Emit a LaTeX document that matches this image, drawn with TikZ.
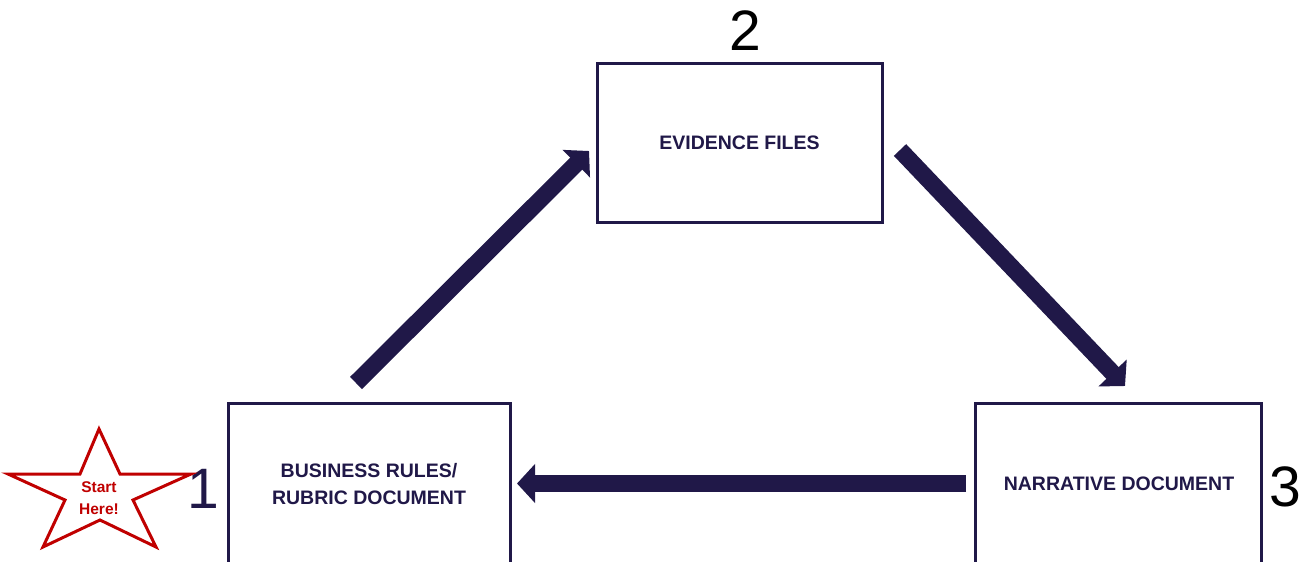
\documentclass[tikz,border=0pt]{standalone}
\usepackage{fontspec}
\setmainfont{Liberation Sans}
\usetikzlibrary{arrows.meta}
\definecolor{navy}{RGB}{32,24,72}
\definecolor{starred}{RGB}{192,0,0}
\tikzset{
  box/.style={draw=navy, line width=3pt, fill=white, inner sep=0pt},
  boxtext/.style={text=navy, font=\fontsize{19.5}{27}\selectfont\bfseries, align=center},
  bigarrow/.style={draw=navy, line width=17pt, -{Triangle[length=18pt,width=38pt]}},
  numlabel/.style={font=\fontsize{57}{57}\selectfont, inner sep=0pt},
}
\begin{document}
\begin{tikzpicture}[x=1pt,y=-1pt]
\useasboundingbox (0,0) rectangle (1309,562);
\begin{scope}
\clip (0,0) rectangle (1309,562);
% boxes
\draw[box] (597,63) rectangle (882,222);
\draw[box] (228,403) rectangle (510,570);
\draw[box] (975,403) rectangle (1261,570);
\end{scope}
\node[boxtext] (ev) at (739.5,143) {EVIDENCE FILES};
\node[boxtext] (br) at (369,484) {BUSINESS RULES/\\RUBRIC DOCUMENT};
\node[boxtext] (nd) at (1119,484) {NARRATIVE DOCUMENT};
% numbers
\node[numlabel, text=black] (n2) at (745,31) {2};
\node[numlabel, text=navy] (n1) at (203,489) {1};
\node[numlabel, text=black] (n3) at (1285,487) {3};
% arrows
\coordinate (a1s) at (356,383);
\coordinate (a1e) at (589,151);
\coordinate (a2s) at (900,150);
\coordinate (a2e) at (1125,386);
\coordinate (a3s) at (966,483.5);
\coordinate (a3e) at (517,483.5);
\draw[bigarrow, line cap=butt] (a1s) -- (a1e);
\draw[bigarrow, line cap=butt] (a2s) -- (a2e);
\draw[bigarrow, line cap=butt] (a3s) -- (a3e);
% star
\draw[starred, line width=3pt, line join=miter, fill=white]
  (99,429) -- (120,474) -- (191,474) -- (133,500) -- (156,547) -- (100,520)
  -- (43,547) -- (65,500) -- (8,474) -- (80,474) -- cycle;
\node[text=starred, font=\fontsize{15.5}{22}\selectfont\bfseries, align=center] (st) at (99,498) {Start\\Here!};
\end{tikzpicture}
\end{document}
